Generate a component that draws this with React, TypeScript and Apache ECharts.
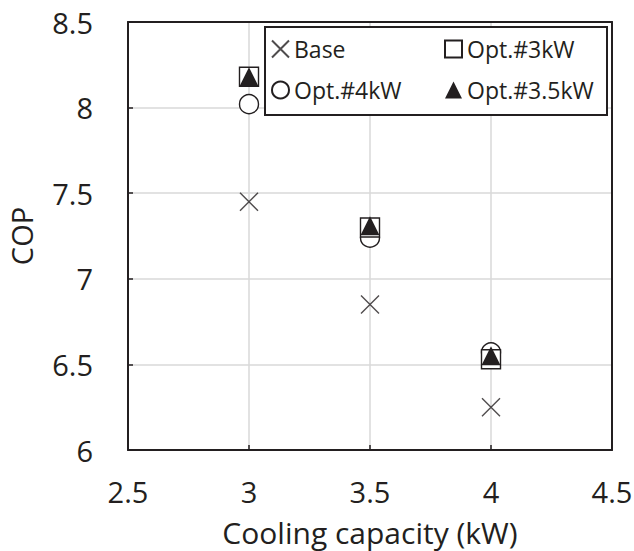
import React, { useEffect, useRef } from "react";
import * as echarts from "echarts";

// Cooling capacity (kW) at which each configuration was evaluated
const capacities = [3, 3.5, 4];

// COP per configuration, one value per capacity
const baseCop = [7.45, 6.85, 6.25];
const opt4kwCop = [8.02, 7.24, 6.57];
const opt3kwCop = [8.18, 7.3, 6.53];
const opt35kwCop = [8.18, 7.31, 6.55];

const seriesNames = ["Base", "Opt.#4kW", "Opt.#3kW", "Opt.#3.5kW"];

const INK = "#231f20";
const FONT = "Open Sans";

const crossPath = "path://M0,0L10,10M10,0L0,10";

function pairs(values: number[]) {
  return capacities.map((c, i) => [c, values[i]]);
}

export default function App() {
  const ref = useRef<HTMLDivElement>(null);

  useEffect(() => {
    if (!ref.current) return;
    const chart = echarts.init(ref.current, null, { renderer: "svg" });

    const legendText = {
      fontFamily: FONT,
      fontSize: 23,
      color: INK,
      lineHeight: 24,
    };

    chart.setOption({
      animation: false,
      backgroundColor: "#ffffff",
      textStyle: { fontFamily: FONT },
      grid: { left: 128, right: 22, top: 22, bottom: 101, outerBoundsMode: "none" },
      xAxis: [
        {
          type: "value",
          min: 2.5,
          max: 4.5,
          interval: 0.5,
          name: "Cooling capacity (kW)",
          nameLocation: "middle",
          nameGap: 67,
          nameTextStyle: { fontFamily: FONT, fontSize: 30, color: INK },
          axisLine: { show: true, lineStyle: { color: INK, width: 2 } },
          axisTick: { show: true, inside: true, length: 5, lineStyle: { color: INK, width: 1.5 } },
          axisLabel: { fontFamily: FONT, fontSize: 29, color: INK, margin: 27 },
          splitLine: { show: true, lineStyle: { color: "#d9d9d9", width: 1.5 } },
        },
        {
          type: "value",
          position: "top",
          min: 2.5,
          max: 4.5,
          axisLine: { show: true, onZero: false, lineStyle: { color: INK, width: 2 } },
          axisTick: { show: false },
          axisLabel: { show: false },
          splitLine: { show: false },
        },
      ],
      yAxis: [
        {
          type: "value",
          min: 6,
          max: 8.5,
          interval: 0.5,
          name: "COP",
          nameLocation: "middle",
          nameGap: 92,
          nameTextStyle: { fontFamily: FONT, fontSize: 29, color: INK },
          axisLine: { show: true, lineStyle: { color: INK, width: 2 } },
          axisTick: { show: true, inside: true, length: 5, lineStyle: { color: INK, width: 1.5 } },
          axisLabel: { fontFamily: FONT, fontSize: 29, color: INK, margin: 35 },
          splitLine: { show: true, lineStyle: { color: "#d9d9d9", width: 1.5 } },
        },
        {
          type: "value",
          position: "right",
          min: 6,
          max: 8.5,
          axisLine: { show: true, onZero: false, lineStyle: { color: INK, width: 2 } },
          axisTick: { show: false },
          axisLabel: { show: false },
          splitLine: { show: false },
        },
      ],
      graphic: [
        {
          type: "rect",
          z: 3,
          shape: { x: 265, y: 27, width: 342, height: 88 },
          style: { fill: "#ffffff", stroke: INK, lineWidth: 2 },
        },
      ],
      legend: [
        {
          data: ["Base", "Opt.#4kW"],
          orient: "vertical",
          left: 271,
          top: 37,
          padding: 0,
          itemGap: 17,
          itemWidth: 17,
          itemHeight: 17,
          selectedMode: false,
          textStyle: legendText,
          z: 5,
        },
        {
          data: ["Opt.#3kW", "Opt.#3.5kW"],
          orient: "vertical",
          left: 444,
          top: 37,
          padding: 0,
          itemGap: 17,
          itemWidth: 17,
          itemHeight: 17,
          selectedMode: false,
          textStyle: legendText,
          z: 5,
        },
      ],
      series: [
        {
          name: seriesNames[0],
          type: "scatter",
          data: pairs(baseCop),
          symbol: crossPath,
          symbolSize: 18,
          itemStyle: { color: "rgba(0,0,0,0)", borderColor: INK, borderWidth: 1.4 },
          z: 2,
        },
        {
          name: seriesNames[1],
          type: "scatter",
          data: pairs(opt4kwCop),
          symbol: "circle",
          symbolSize: 19,
          itemStyle: { color: "#ffffff", borderColor: INK, borderWidth: 1.4, opacity: 1 },
          z: 2,
        },
        {
          name: seriesNames[2],
          type: "scatter",
          data: pairs(opt3kwCop),
          symbol: "rect",
          symbolSize: 19,
          itemStyle: { color: "#ffffff", borderColor: INK, borderWidth: 1.4, opacity: 1 },
          z: 2,
        },
        {
          name: seriesNames[3],
          type: "scatter",
          data: pairs(opt35kwCop),
          symbol: "triangle",
          symbolSize: 19,
          itemStyle: { color: INK, opacity: 1 },
          z: 2,
        },
      ],
    });

    return () => chart.dispose();
  }, []);

  return (
    <div
      ref={ref}
      style={{ position: "fixed", left: 0, top: 0, width: 634, height: 551 }}
    />
  );
}
